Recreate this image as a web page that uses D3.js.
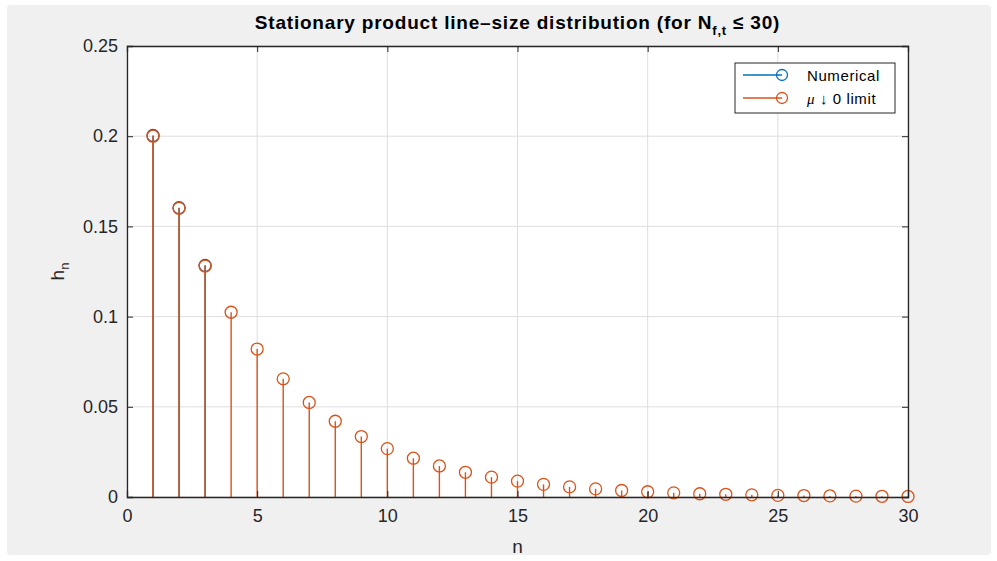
<!DOCTYPE html>
<html lang="en">
	<head>
		<meta charset="utf-8">
		<title>Stationary product line-size distribution</title>
		<script type="text/javascript" src="https://cdn.jsdelivr.net/npm/d3@7"></script>
		<style>
			body { margin: 0; background: #ffffff; }
			text { font-family: "Liberation Sans", Arial, sans-serif; }
		</style>
	</head>
	<body>
		<script type="text/javascript">

			//
			// Data
			//

			var nValues = [1, 2, 3, 4, 5, 6, 7, 8, 9, 10, 11, 12, 13, 14, 15,
				16, 17, 18, 19, 20, 21, 22, 23, 24, 25, 26, 27, 28, 29, 30];

			// mu -> 0 limit (orange stems)
			var limitValues = [0.2, 0.16, 0.128, 0.1024, 0.082, 0.0655, 0.0524, 0.042, 0.0335, 0.0268,
				0.0215, 0.0172, 0.0137, 0.011, 0.0088, 0.007, 0.0056, 0.0045, 0.0036, 0.0029,
				0.0023, 0.0018, 0.0015, 0.0012, 0.0009, 0.0008, 0.0006, 0.0005, 0.0004, 0.0003];

			// numerical solution (blue), only visible for the first points
			var numericalN = [1, 2, 3];
			var numericalValues = [0.2004, 0.1604, 0.1284];

			var xTicks = [0, 5, 10, 15, 20, 25, 30];
			var yTicks = [0, 0.05, 0.1, 0.15, 0.2, 0.25];

			var blue = "#0072bd";
			var orange = "#d95319";

			//
			// Layout
			//

			var width = 997, height = 561;
			var plot = { left: 127, right: 908, top: 46, bottom: 497 };

			var svg = d3.select("body")
				.append("svg")
				.attr("width", width)
				.attr("height", height);

			// grey figure panel
			svg.append("rect")
				.attr("x", 7).attr("y", 5)
				.attr("width", 984).attr("height", 550)
				.attr("rx", 4)
				.attr("fill", "#f0f0f0");

			var x = d3.scaleLinear().domain([0, 30]).range([plot.left, plot.right]);
			var y = d3.scaleLinear().domain([0, 0.25]).range([plot.bottom, plot.top]);

			// white axes background
			svg.append("rect")
				.attr("x", plot.left).attr("y", plot.top)
				.attr("width", plot.right - plot.left)
				.attr("height", plot.bottom - plot.top)
				.attr("fill", "#ffffff");

			// grid
			svg.append("g")
				.selectAll("line")
				.data(xTicks)
				.enter()
				.append("line")
				.attr("x1", function(d) { return x(d); })
				.attr("x2", function(d) { return x(d); })
				.attr("y1", plot.top).attr("y2", plot.bottom)
				.attr("stroke", "#dedede").attr("stroke-width", 1);

			svg.append("g")
				.selectAll("line")
				.data(yTicks)
				.enter()
				.append("line")
				.attr("y1", function(d) { return y(d); })
				.attr("y2", function(d) { return y(d); })
				.attr("x1", plot.left).attr("x2", plot.right)
				.attr("stroke", "#dedede").attr("stroke-width", 1);

			//
			// Stems
			//

			var drawStems = function(ns, vals, colour) {
				var g = svg.append("g");
				var pts = ns.map(function(n, i) { return { n: n, v: vals[i] }; });
				g.selectAll("line")
					.data(pts)
					.enter()
					.append("line")
					.attr("x1", function(d) { return x(d.n); })
					.attr("x2", function(d) { return x(d.n); })
					.attr("y1", y(0))
					.attr("y2", function(d) { return y(d.v); })
					.attr("stroke", colour)
					.attr("stroke-width", 1.4);
				g.selectAll("circle")
					.data(pts)
					.enter()
					.append("circle")
					.attr("cx", function(d) { return x(d.n); })
					.attr("cy", function(d) { return y(d.v); })
					.attr("r", 6)
					.attr("fill", "none")
					.attr("stroke", colour)
					.attr("stroke-width", 1.3);
			};

			drawStems(numericalN, numericalValues, "#3a4e6a");
			drawStems(nValues, limitValues, orange);

			//
			// Axes
			//

			var tickCol = "#262626";

			var xAxis = svg.append("g")
				.attr("transform", "translate(0," + plot.bottom + ")")
				.call(d3.axisBottom(x).tickValues(xTicks).tickSize(-6).tickPadding(12).tickFormat(d3.format("d")));
			var yAxis = svg.append("g")
				.attr("transform", "translate(" + plot.left + ",0)")
				.call(d3.axisLeft(y).tickValues(yTicks).tickSize(-6).tickPadding(9)
					.tickFormat(function(d) { return d === 0 ? "0" : String(+d.toFixed(2)); }));
			var xAxisTop = svg.append("g")
				.attr("transform", "translate(0," + plot.top + ")")
				.call(d3.axisTop(x).tickValues(xTicks).tickSize(-6).tickFormat(""));
			var yAxisRight = svg.append("g")
				.attr("transform", "translate(" + plot.right + ",0)")
				.call(d3.axisRight(y).tickValues(yTicks).tickSize(-6).tickFormat(""));

			[xAxis, yAxis, xAxisTop, yAxisRight].forEach(function(a) {
				a.selectAll("path").attr("stroke", tickCol).attr("stroke-width", 1.3);
				a.selectAll("line").attr("stroke", tickCol);
				a.selectAll("text")
					.attr("fill", tickCol)
					.style("font-size", "18px")
					.style("font-family", "'Liberation Sans', Arial, sans-serif");
			});

			// axis labels
			svg.append("text")
				.attr("x", (plot.left + plot.right) / 2)
				.attr("y", 553)
				.attr("text-anchor", "middle")
				.attr("fill", tickCol)
				.style("font-size", "19px")
				.text("n");

			var yl = svg.append("text")
				.attr("transform", "translate(64," + ((plot.top + plot.bottom) / 2) + ") rotate(-90)")
				.attr("text-anchor", "middle")
				.attr("fill", tickCol)
				.style("font-size", "19px");
			yl.append("tspan").text("h");
			yl.append("tspan").attr("dy", 5).style("font-size", "13px").text("n");

			// title
			var title = svg.append("text")
				.attr("x", (plot.left + plot.right) / 2)
				.attr("y", 29)
				.attr("text-anchor", "middle")
				.attr("fill", "#000000")
				.style("font-size", "19px")
				.style("letter-spacing", "0.8px")
				.style("font-weight", "bold");
			title.append("tspan").text("Stationary product line\u2013size distribution (for N");
			title.append("tspan").attr("dy", 6).style("font-size", "13px").text("f,t");
			title.append("tspan").attr("dy", -6).text(" \u2264 30)");

			//
			// Legend
			//

			var legend = svg.append("g").attr("transform", "translate(735,63)");
			legend.append("rect")
				.attr("width", 160).attr("height", 50)
				.attr("fill", "#ffffff")
				.attr("stroke", "#262626").attr("stroke-width", 1);

			var legendItems = [
				{ sym: "", label: "Numerical", colour: blue, dy: 12 },
				{ sym: "\u03bc", label: " \u2193 0 limit", colour: orange, dy: 35 }
			];
			var li = legend.selectAll("g.item")
				.data(legendItems)
				.enter()
				.append("g")
				.attr("class", "item")
				.attr("transform", function(d) { return "translate(0," + d.dy + ")"; });
			li.append("line")
				.attr("x1", 8).attr("x2", 47)
				.attr("stroke", function(d) { return d.colour; })
				.attr("stroke-width", 1.5);
			li.append("circle")
				.attr("cx", 47).attr("r", 5.5)
				.attr("fill", "none")
				.attr("stroke", function(d) { return d.colour; })
				.attr("stroke-width", 1.3);
			var lt = li.append("text")
				.attr("x", 72).attr("y", 5.5)
				.attr("fill", "#000000")
				.style("font-size", "15px")
				.style("letter-spacing", "0.6px");
			lt.append("tspan")
				.style("font-style", "italic")
				.style("font-family", "'Liberation Serif', serif")
				.text(function(d) { return d.sym; });
			lt.append("tspan")
				.text(function(d) { return d.label; });

		</script>
	</body>
</html>
